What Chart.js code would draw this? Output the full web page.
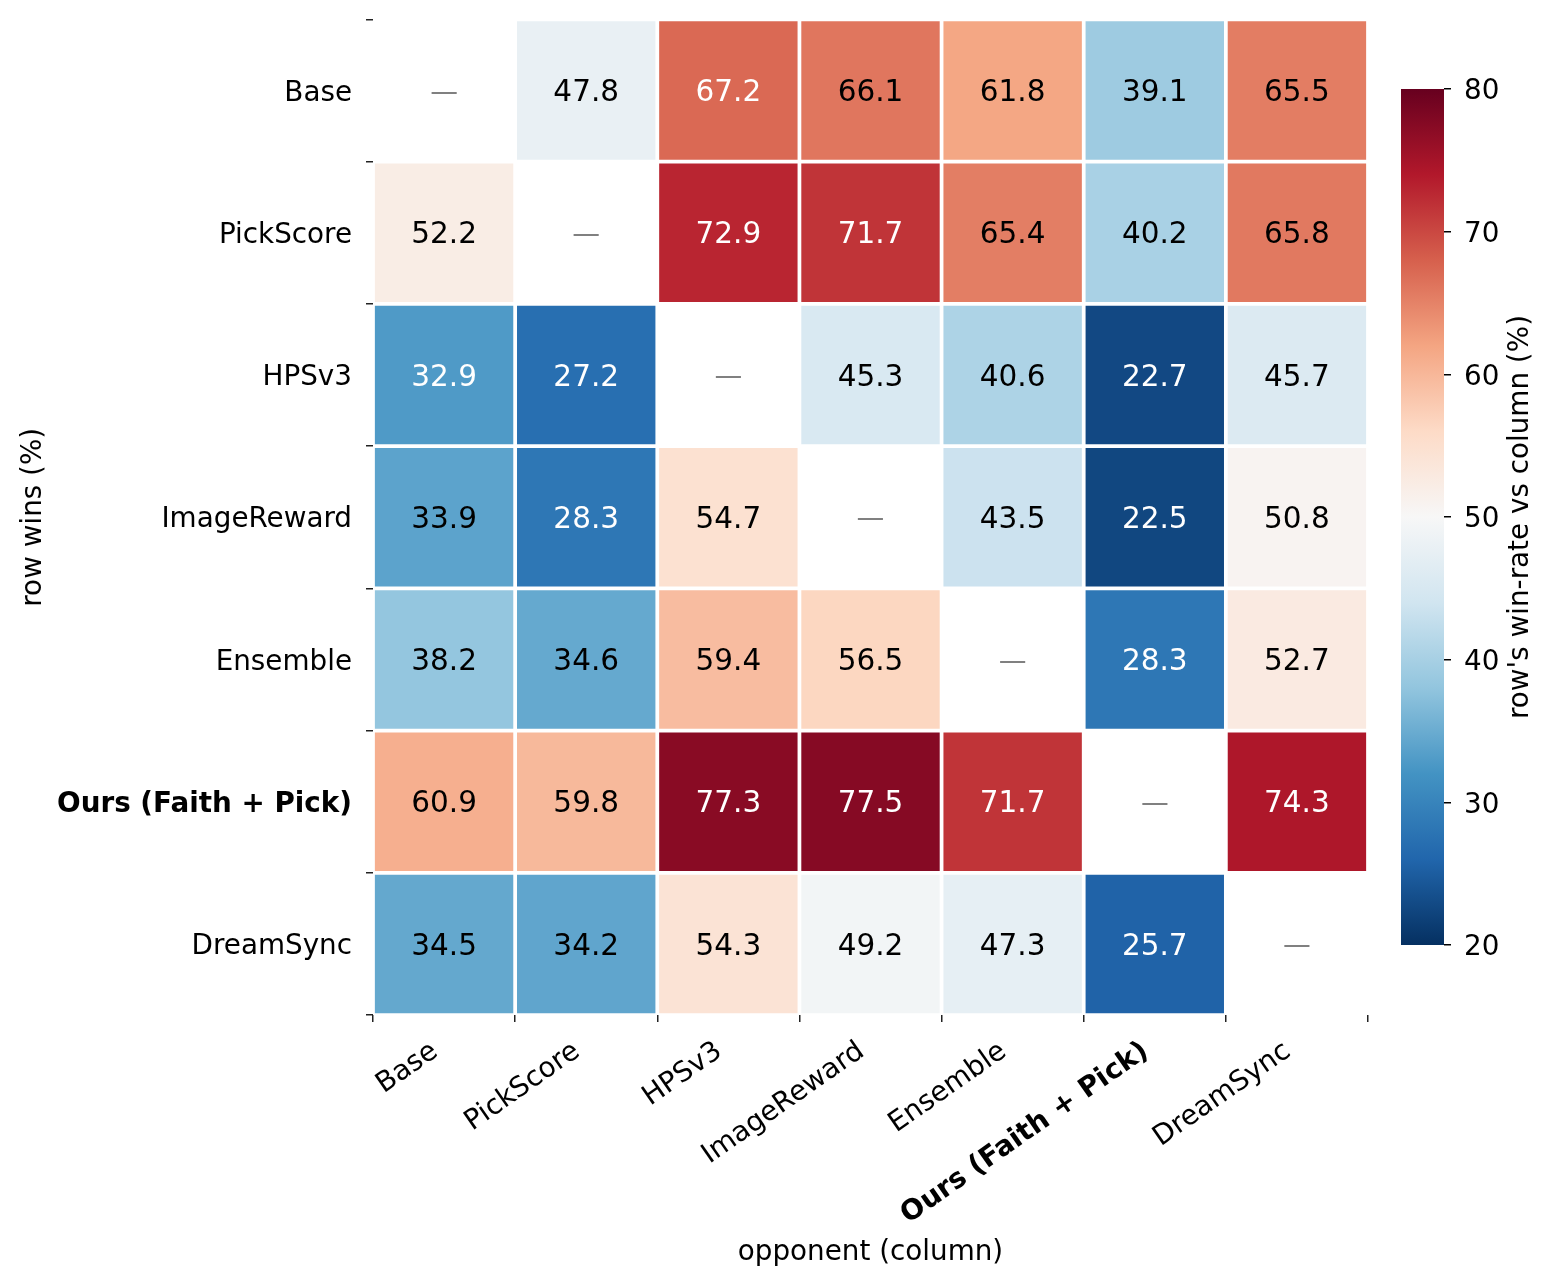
<!DOCTYPE html>
<html>
<head>
<meta charset="utf-8">
<script src="https://cdn.jsdelivr.net/npm/chart.js@4.4.1/dist/chart.umd.min.js"></script>
<style>
  html, body { margin: 0; padding: 0; background: #fff; }
  #wrap { position: relative; width: 1557px; height: 1286px; }
  #heat { position: absolute; left: 0; top: 0; }
  #cbar { position: absolute; left: 1360px; top: 0; }
</style>
</head>
<body>
<div id="wrap">
  <canvas id="heat" width="1557" height="1286" style="width:1557px;height:1286px"></canvas>
  <canvas id="cbar" width="197" height="1286" style="width:197px;height:1286px"></canvas>
</div>
<script>
// win-rate heatmap: row model vs column opponent

/* ---------- Data ---------- */
const models = ['Base', 'PickScore', 'HPSv3', 'ImageReward', 'Ensemble', 'Ours (Faith + Pick)', 'DreamSync'];
const oursName = 'Ours (Faith + Pick)';

const winsBase        = [null, 47.8, 67.2, 66.1, 61.8, 39.1, 65.5];
const winsPickScore   = [52.2, null, 72.9, 71.7, 65.4, 40.2, 65.8];
const winsHPSv3       = [32.9, 27.2, null, 45.3, 40.6, 22.7, 45.7];
const winsImageReward = [33.9, 28.3, 54.7, null, 43.5, 22.5, 50.8];
const winsEnsemble    = [38.2, 34.6, 59.4, 56.5, null, 28.3, 52.7];
const winsOurs        = [60.9, 59.8, 77.3, 77.5, 71.7, null, 74.3];
const winsDreamSync   = [34.5, 34.2, 54.3, 49.2, 47.3, 25.7, null];

const rowValues = [winsBase, winsPickScore, winsHPSv3, winsImageReward, winsEnsemble, winsOurs, winsDreamSync];

const vmin = 20;
const vmax = 80;
const cbarTicks = [20, 30, 40, 50, 60, 70, 80];

/* ---------- Colormap (RdBu_r) ---------- */
const rdbuR = ['#053061', '#2166ac', '#4393c3', '#92c5de', '#d1e5f0', '#f7f7f7',
               '#fddbc7', '#f4a582', '#d6604d', '#b2182b', '#67001f'];

function hexRgb(h) {
  return [parseInt(h.slice(1, 3), 16), parseInt(h.slice(3, 5), 16), parseInt(h.slice(5, 7), 16)];
}

function cmap(v) {
  let t = (v - vmin) / (vmax - vmin);
  t = Math.max(0, Math.min(1, t));
  const s = t * (rdbuR.length - 1);
  const i = Math.min(rdbuR.length - 2, Math.floor(s));
  const f = s - i;
  const a = hexRgb(rdbuR[i]), b = hexRgb(rdbuR[i + 1]);
  const c = a.map((x, k) => Math.round(x + (b[k] - x) * f));
  return `rgb(${c[0]}, ${c[1]}, ${c[2]})`;
}

/* ---------- Fonts ---------- */
const FAMILY = '"DejaVu Sans", "Liberation Sans", sans-serif';
const TICK_SIZE = 27.8;
const ANNOT_SIZE = 29.5;
const TEXT_NUDGE = 3; // canvas 'middle' sits a little high vs matplotlib

function tickFont(ctx) {
  const bold = ctx.tick && ctx.tick.label === oursName;
  return { family: FAMILY, size: TICK_SIZE, weight: bold ? 'bold' : 'normal' };
}

/* ---------- Cell annotations ---------- */
const cellText = {
  id: 'cellText',
  afterDatasetsDraw(chart) {
    const ctx = chart.ctx;
    ctx.save();
    ctx.textAlign = 'center';
    ctx.textBaseline = 'middle';
    chart.data.datasets.forEach((ds, r) => {
      chart.getDatasetMeta(r).data.forEach((bar, c) => {
        const p = bar.getProps(['x', 'y', 'base'], true);
        const cy = (p.y + p.base) / 2 + TEXT_NUDGE;
        const v = ds.values[c];
        if (v == null) {
          ctx.font = `${TICK_SIZE}px ${FAMILY}`;
          ctx.fillStyle = '#808080';
          ctx.fillText('\u2014', p.x, cy);
        } else {
          ctx.font = `${ANNOT_SIZE}px ${FAMILY}`;
          ctx.fillStyle = Math.abs(v - 50) > 16.5 ? '#ffffff' : '#000000';
          ctx.fillText(v.toFixed(1), p.x, cy);
        }
      });
    });
    ctx.restore();
  }
};

/* ---------- Heatmap ---------- */
const datasets = rowValues.map((vals, r) => ({
  label: models[r],
  data: vals.map(() => [r, r + 1]),
  values: vals,
  backgroundColor: vals.map(v => (v == null ? '#ffffff' : cmap(v))),
  borderColor: '#ffffff',
  borderWidth: 2.2,
  borderSkipped: false,
  grouped: false,
  barPercentage: 1,
  categoryPercentage: 1,
  yAxisID: 'y',
}));

new Chart(document.getElementById('heat'), {
  type: 'bar',
  data: { labels: models, datasets },
  options: {
    responsive: false,
    animation: false,
    layout: { padding: { left: 0, top: 19.5, right: 189, bottom: 3 } },
    plugins: { legend: { display: false }, tooltip: { enabled: false } },
    scales: {
      x: {
        type: 'category',
        offset: true,
        grid: { offset: true, drawOnChartArea: false, tickLength: 7, color: '#222', lineWidth: 1.5 },
        border: { display: false },
        ticks: {
          autoSkip: false,
          minRotation: 35,
          maxRotation: 35,
          padding: 13,
          labelOffset: -9,
          color: '#000',
          font: tickFont,
        },
        title: {
          display: true,
          text: 'opponent (column)',
          color: '#000',
          font: { family: FAMILY, size: TICK_SIZE },
          padding: { top: 0, bottom: 14 },
        },
        afterFit(s) {
          s.height = 1286 - 1015 - 3;
          s.paddingLeft = 0;
          s.paddingRight = 0;
        },
      },
      y: { type: 'linear', min: 0, max: 7, reverse: true, display: false },
      yLabels: {
        type: 'category',
        axis: 'y',
        position: 'left',
        labels: models,
        offset: true,
        grid: { offset: true, drawOnChartArea: false, tickLength: 7, color: '#222', lineWidth: 1.5 },
        border: { display: false },
        ticks: { autoSkip: false, padding: 14, labelOffset: TEXT_NUDGE, color: '#000', font: tickFont },
        title: {
          display: true,
          text: 'row wins (%)',
          color: '#000',
          font: { family: FAMILY, size: TICK_SIZE },
          padding: { top: 17, bottom: 0 },
        },
        afterFit(s) {
          s.width = 373;
          s.paddingTop = 0;
          s.paddingBottom = 0;
        },
      },
    },
  },
  plugins: [cellText],
});

/* ---------- Colorbar ---------- */
const cbarTitle = {
  id: 'cbarTitle',
  afterDraw(chart) {
    const { ctx, chartArea } = chart;
    ctx.save();
    ctx.translate(161, (chartArea.top + chartArea.bottom) / 2);
    ctx.rotate(-Math.PI / 2);
    ctx.textAlign = 'center';
    ctx.textBaseline = 'middle';
    ctx.fillStyle = '#000';
    ctx.font = `${TICK_SIZE}px ${FAMILY}`;
    ctx.fillText("row's win-rate vs column (%)", 0, 0);
    ctx.restore();
  }
};

new Chart(document.getElementById('cbar'), {
  type: 'bar',
  data: {
    labels: [''],
    datasets: [{
      data: [[vmin, vmax]],
      backgroundColor(c) {
        const area = c.chart.chartArea;
        if (!area) return rdbuR[5];
        const g = c.chart.ctx.createLinearGradient(0, area.bottom, 0, area.top);
        rdbuR.forEach((col, i) => g.addColorStop(i / (rdbuR.length - 1), col));
        return g;
      },
      borderWidth: 0,
      barPercentage: 1,
      categoryPercentage: 1,
    }],
  },
  options: {
    responsive: false,
    animation: false,
    layout: { padding: { left: 41, top: 89, right: 0, bottom: 341 } },
    plugins: { legend: { display: false }, tooltip: { enabled: false } },
    scales: {
      x: { display: false },
      y: {
        position: 'right',
        min: vmin,
        max: vmax,
        afterBuildTicks(s) { s.ticks = cbarTicks.map(v => ({ value: v })); },
        grid: { drawOnChartArea: false, tickLength: 7, color: '#000', lineWidth: 1.5 },
        border: { display: false },
        ticks: { padding: 13, labelOffset: TEXT_NUDGE, color: '#000', font: { family: FAMILY, size: TICK_SIZE } },
        afterFit(s) {
          s.width = 113;
          s.paddingTop = 0;
          s.paddingBottom = 0;
        },
      },
    },
  },
  plugins: [cbarTitle],
});
</script>
</body>
</html>
